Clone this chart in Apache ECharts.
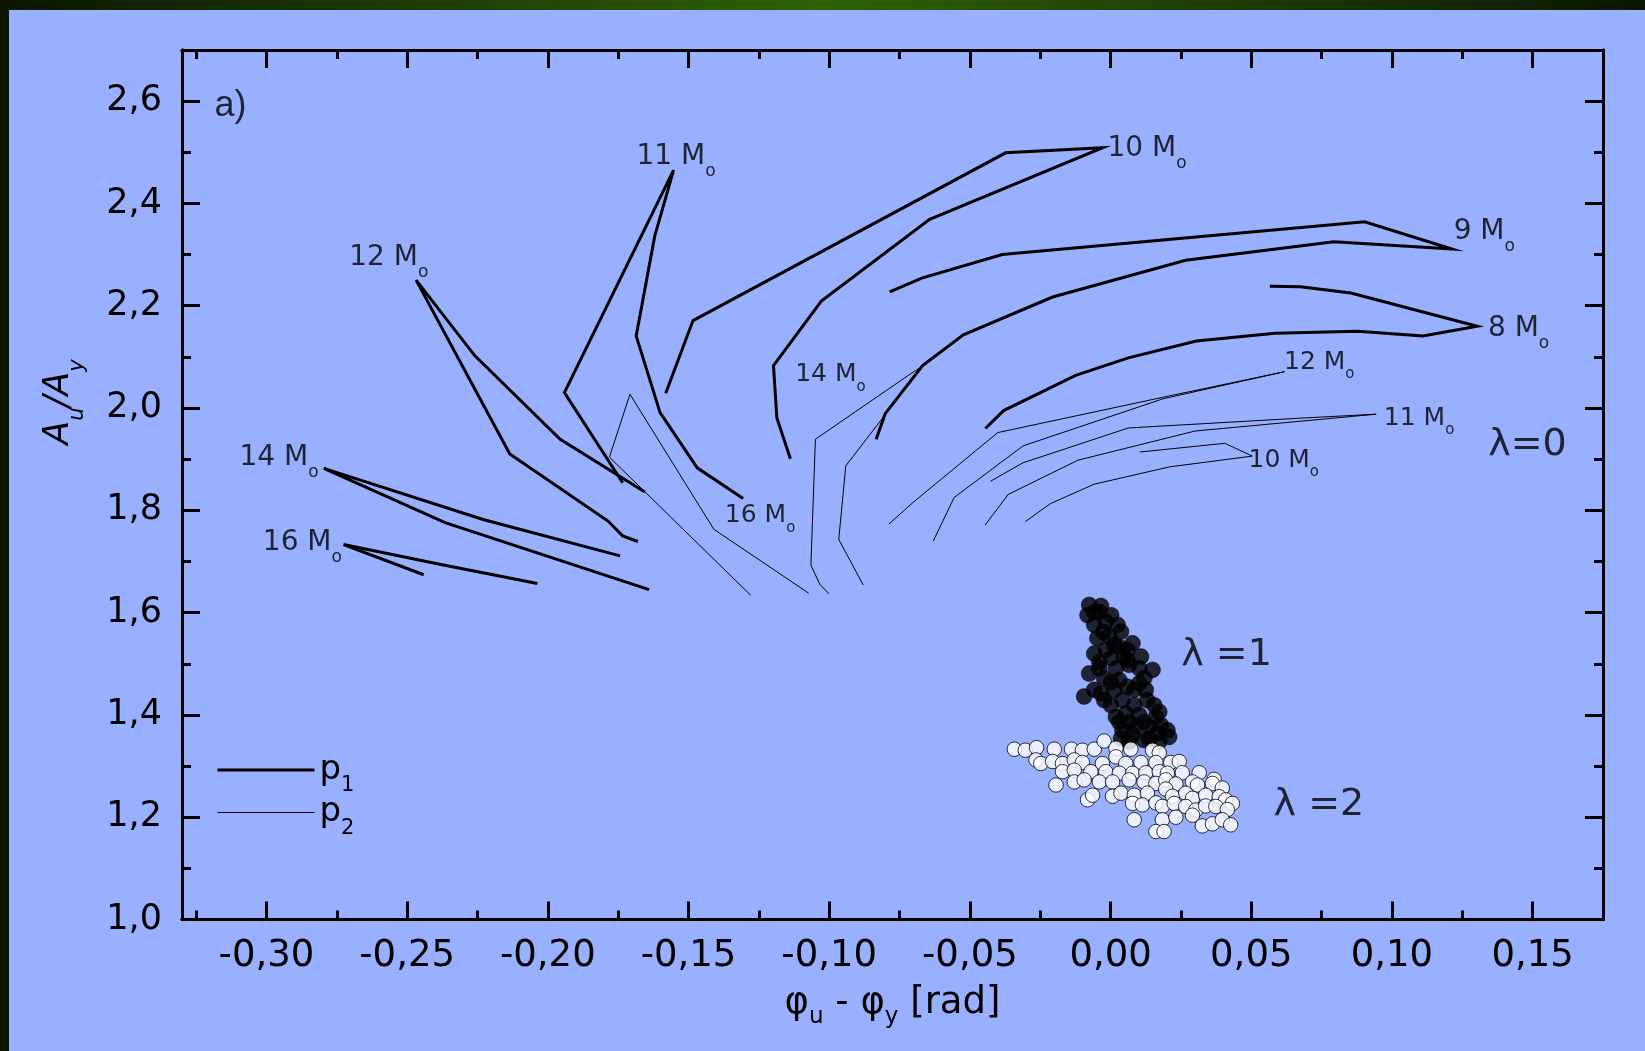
<!DOCTYPE html>
<html><head><meta charset="utf-8">
<script src="https://cdn.jsdelivr.net/npm/echarts@6/dist/echarts.min.js"></script>
<style>html,body{margin:0;padding:0;background:#99b0fe;}#c{width:1645px;height:1051px;}</style>
</head><body><div id="c"></div>
<script>
// ---------- axis ticks ----------
const X_MIN = -0.33, X_MAX = 0.175, Y_MIN = 1.0, Y_MAX = 2.7;
const xMajorTicks = [-0.30, -0.25, -0.20, -0.15, -0.10, -0.05, 0.00, 0.05, 0.10, 0.15];
const xMinorTicks = [-0.325, -0.275, -0.225, -0.175, -0.125, -0.075, -0.025, 0.025, 0.075, 0.125, 0.175];
const yMajorTicks = [1.0, 1.2, 1.4, 1.6, 1.8, 2.0, 2.2, 2.4, 2.6];
const yMinorTicks = [1.1, 1.3, 1.5, 1.7, 1.9, 2.1, 2.3, 2.5, 2.7];

// ---------- p1 (thick) tracks ----------
const track8P1 = [[0.0566,2.238],[0.0675,2.237],[0.0854,2.225],[0.1303,2.160],[0.1110,2.141],[0.0879,2.150],[0.0585,2.146],[0.0305,2.131],[0.0063,2.098],[-0.0124,2.064],[-0.0380,1.995],[-0.0445,1.960]];
const track9P1 = [[-0.0785,2.227],[-0.0671,2.254],[-0.0385,2.300],[0.0903,2.364],[0.1213,2.311],[0.0794,2.325],[0.0267,2.289],[-0.0206,2.217],[-0.0523,2.143],[-0.0668,2.083],[-0.0801,1.989],[-0.0833,1.939]];
const track10P1 = [[-0.1581,2.029],[-0.1484,2.171],[-0.0373,2.499],[-0.0028,2.509],[-0.0643,2.369],[-0.1028,2.209],[-0.1198,2.083],[-0.1186,1.981],[-0.1138,1.901]];
const track11P1 = [[-0.1734,1.854],[-0.1941,2.030],[-0.1553,2.465],[-0.1620,2.336],[-0.1686,2.141],[-0.1601,1.991],[-0.1469,1.883],[-0.1306,1.823]];
const track12P1 = [[-0.1680,1.739],[-0.1734,1.750],[-0.1786,1.779],[-0.2135,1.910],[-0.2468,2.250],[-0.2259,2.102],[-0.1956,1.939],[-0.1655,1.836]];
const track14P1 = [[-0.1743,1.711],[-0.2230,1.782],[-0.2796,1.882],[-0.2365,1.776],[-0.1640,1.645]];
const track16P1 = [[-0.2441,1.674],[-0.2726,1.733],[-0.2380,1.694],[-0.2037,1.657]];

// ---------- p2 (thin) tracks ----------
const track10P2 = [[0.0104,1.914],[0.0406,1.931],[0.0504,1.906],[0.0210,1.885],[-0.0059,1.851],[-0.0214,1.813],[-0.0303,1.778]];
const track11P2 = [[-0.0426,1.857],[-0.0311,1.893],[0.0063,1.961],[0.0667,1.980],[0.0944,1.988],[0.0300,1.955],[-0.0116,1.898],[-0.0364,1.831],[-0.0446,1.771]];
const track12P2 = [[-0.0788,1.773],[-0.0703,1.815],[-0.0401,1.952],[0.0186,2.021],[0.0618,2.071],[0.0186,2.018],[-0.0311,1.926],[-0.0556,1.825],[-0.0630,1.740]];
const track14P2 = [[-0.1001,1.637],[-0.1033,1.655],[-0.1065,1.693],[-0.1049,1.939],[-0.0713,2.066],[-0.0668,2.082],[-0.0941,1.887],[-0.0966,1.743],[-0.0879,1.654]];
const track16P2 = [[-0.1279,1.634],[-0.1781,1.904],[-0.1708,2.027],[-0.1410,1.763],[-0.1073,1.638]];

// ---------- scatter: lambda = 1 (filled) ----------
const lambda1Points = [
[-0.0076,1.615],[-0.0034,1.613],[-0.0082,1.595],[-0.0040,1.601],[-0.0058,1.601],[0.0002,1.595],[-0.0058,1.576],[-0.0017,1.582],[0.0025,1.576],
[-0.0026,1.562],[-0.0047,1.550],[-0.0005,1.553],[0.0037,1.563],[0.0078,1.540],[0.0013,1.537],[-0.0058,1.520],[-0.0017,1.527],[0.0031,1.533],[0.0060,1.527],[0.0108,1.514],
[-0.0040,1.503],[0.0002,1.511],[0.0048,1.513],[0.0060,1.507],[-0.0040,1.491],
[-0.0076,1.481],[-0.0023,1.472],[0.0019,1.491],[0.0066,1.498],[0.0102,1.491],[0.0149,1.488],[0.0002,1.464],[0.0031,1.468],[0.0120,1.472],
[-0.0094,1.436],[-0.0058,1.449],[-0.0034,1.442],[0.0013,1.449],[0.0060,1.455],[0.0102,1.462],[0.0125,1.449],[0.0084,1.449],
[-0.0023,1.429],[0.0001,1.419],[0.0042,1.429],[0.0084,1.419],[0.0130,1.429],[0.0155,1.419],
[0.0019,1.396],[0.0054,1.403],[0.0102,1.400],[0.0161,1.396],[0.0173,1.406],[0.0031,1.386],[0.0066,1.386],[0.0119,1.386],
[0.0042,1.370],[0.0090,1.377],[0.0137,1.377],[0.0179,1.380],[0.0202,1.370],
[0.0037,1.354],[0.0066,1.348],[0.0078,1.361],[0.0119,1.351],[0.0137,1.354],[0.0166,1.364],[0.0173,1.348],[0.0208,1.357]
];

// ---------- scatter: lambda = 2 (open) ----------
const lambda2Points = [
[-0.0342,1.333],[-0.0303,1.331],[-0.0263,1.336],[-0.0200,1.333],[-0.0139,1.333],[-0.0100,1.331],[-0.0058,1.333],[-0.0023,1.349],[0.0019,1.335],[0.0072,1.333],[0.0149,1.331],[0.0173,1.326],
[-0.0265,1.312],[-0.0248,1.305],[-0.0206,1.309],[-0.0171,1.305],[-0.0129,1.312],[-0.0100,1.307],[-0.0029,1.305],[0.0019,1.318],[0.0054,1.305],[0.0108,1.307],[0.0161,1.307],[0.0214,1.307],[0.0244,1.309],
[-0.0171,1.289],[-0.0129,1.292],[-0.0070,1.289],[-0.0017,1.289],[0.0031,1.286],[0.0078,1.286],[0.0125,1.287],[0.0173,1.289],[0.0202,1.286],[0.0255,1.287],[0.0315,1.287],[0.0368,1.274],
[-0.0194,1.263],[-0.0129,1.269],[-0.0094,1.273],[-0.0040,1.269],[0.0007,1.269],[0.0066,1.273],[0.0119,1.269],[0.0161,1.266],[0.0196,1.273],[0.0232,1.265],[0.0291,1.269],[0.0309,1.263],[0.0362,1.266],[0.0397,1.257],
[-0.0082,1.234],[-0.0064,1.243],[0.0007,1.241],[0.0037,1.247],[0.0084,1.243],[0.0131,1.247],[0.0196,1.255],[0.0220,1.241],[0.0267,1.247],[0.0291,1.237],[0.0338,1.243],[0.0386,1.240],[0.0409,1.234],[0.0433,1.227],
[0.0078,1.227],[0.0113,1.224],[0.0161,1.228],[0.0184,1.221],[0.0226,1.227],[0.0267,1.221],[0.0303,1.214],[0.0338,1.222],[0.0374,1.221],[0.0415,1.215],
[0.0084,1.195],[0.0184,1.195],[0.0232,1.200],[0.0291,1.204],[0.0326,1.183],[0.0362,1.187],[0.0397,1.195],[0.0427,1.185],[0.0161,1.172],[0.0190,1.172]
];

// ---------- annotations (text, x, y in data units) ----------
const massLabelsP1 = [['11',-0.1683,2.4913],['10',-0.0009,2.5064],['9',0.1221,2.3447],['8',0.1343,2.1549],['12',-0.2704,2.2927],['14',-0.3094,1.9017],['16',-0.3011,1.7355]];
const massLabelsP2 = [['14',-0.1119,2.0639],['16',-0.1369,1.7885],['12',0.0618,2.0890],['11',0.0973,1.9791],['10',0.0492,1.8968]];
const lambdaLabels = [['λ=0',0.1344,1.9257],['λ =1',0.0253,1.5152],['λ =2',0.0581,1.2219]];
const panelLabels = [['a)',-0.3183,2.5885]];

// ---------- build ----------
const FONT = 'DejaVu Sans';
const BLACK = '#000';
const fmtX = v => v.toFixed(2).replace('.', ',');
const fmtY = v => v.toFixed(1).replace('.', ',');

function xAxis(pos, ticks, len, withLabels) {
  return {
    type: 'value', position: pos, min: X_MIN, max: X_MAX,
    axisLine: { show: true, onZero: false, lineStyle: { color: BLACK, width: 3 } },
    axisTick: { show: true, inside: true, length: len, customValues: ticks, lineStyle: { color: BLACK, width: 3 } },
    axisLabel: withLabels ? { show: true, customValues: ticks, formatter: fmtX, margin: 18, fontSize: 37, fontFamily: FONT, color: BLACK } : { show: false },
    splitLine: { show: false }
  };
}
function yAxis(pos, ticks, len, withLabels) {
  return {
    type: 'value', position: pos, min: Y_MIN, max: Y_MAX,
    axisLine: { show: true, onZero: false, lineStyle: { color: BLACK, width: 3 } },
    axisTick: { show: true, inside: true, length: len, customValues: ticks, lineStyle: { color: BLACK, width: 3 } },
    axisLabel: withLabels ? { show: true, customValues: ticks, formatter: fmtY, margin: 20, fontSize: 35, fontFamily: FONT, color: BLACK } : { show: false },
    splitLine: { show: false }
  };
}

function lineSeries(name, data, width) {
  return { type: 'line', name: name, data: data, symbol: 'none', silent: true, z: 2,
    lineStyle: { color: BLACK, width: width, join: 'miter' }, itemStyle: { color: BLACK } };
}

const series = [];
[track8P1, track9P1, track10P1, track11P1, track12P1, track14P1, track16P1].forEach(d => series.push(lineSeries('p1', d, 3)));
[track10P2, track11P2, track12P2, track14P2, track16P2].forEach(d => series.push(lineSeries('p2', d, 1)));

series.push({ type: 'scatter', name: 'λ=1', data: lambda1Points, symbol: 'circle', symbolSize: 16, z: 3, silent: true,
  itemStyle: { color: BLACK, borderColor: BLACK, borderWidth: 0.5 } });
series.push({ type: 'scatter', name: 'λ=2', data: lambda2Points, symbol: 'circle', symbolSize: 14.5, z: 4, silent: true,
  itemStyle: { color: '#fff', borderColor: BLACK, borderWidth: 1 } });

function textSeries(items, label) {
  return { type: 'scatter', symbol: 'circle', symbolSize: 1, z: 6, silent: true,
    itemStyle: { color: 'rgba(0,0,0,0)' },
    data: items.map(a => ({ value: [a[1], a[2]], name: a[0] })),
    label: Object.assign({ show: true, position: [0, 0], align: 'left', verticalAlign: 'middle', color: BLACK }, label) };
}
series.push(textSeries(massLabelsP1, { formatter: p => '{n|' + p.name + ' M}{s|o}',
  rich: { n: { fontSize: 28, lineHeight: 28, fontFamily: FONT, color: BLACK }, s: { fontSize: 17, fontFamily: FONT, color: BLACK, padding: [30, 0, 0, 0] } } }));
series.push(textSeries(massLabelsP2, { formatter: p => '{n|' + p.name + ' M}{s|o}',
  rich: { n: { fontSize: 25, lineHeight: 25, fontFamily: FONT, color: BLACK }, s: { fontSize: 15, fontFamily: FONT, color: BLACK, padding: [24, 0, 0, 0] } } }));
series.push(textSeries(lambdaLabels, { formatter: p => p.name, fontSize: 38, fontFamily: FONT }));
series.push(textSeries(panelLabels, { formatter: p => p.name, fontSize: 36, fontFamily: 'Liberation Sans' }));

const option = {
  animation: false,
  backgroundColor: '#99b0fe',
  grid: { left: 182, right: 42, top: 50, bottom: 131.5, containLabel: false },
  xAxis: [xAxis('bottom', xMajorTicks, 18, true), xAxis('bottom', xMinorTicks, 9, false),
          xAxis('top', xMajorTicks, 18, false), xAxis('top', xMinorTicks, 9, false)],
  yAxis: [yAxis('left', yMajorTicks, 18, true), yAxis('left', yMinorTicks, 9, false),
          yAxis('right', yMajorTicks, 18, false), yAxis('right', yMinorTicks, 9, false)],
  legend: {
    data: [
      { name: 'p1', lineStyle: { width: 3, color: BLACK } },
      { name: 'p2', lineStyle: { width: 1, color: BLACK } }
    ],
    orient: 'vertical', left: 216, top: 753, padding: 0,
    itemWidth: 97, itemHeight: 14, itemGap: -1, selectedMode: false,
    itemStyle: { opacity: 0 },
    formatter: n => '{p|p}{s|' + n.slice(1) + '}',
    textStyle: { color: BLACK, rich: {
      p: { fontSize: 34, lineHeight: 34, fontFamily: FONT, color: BLACK },
      s: { fontSize: 21, fontFamily: FONT, color: BLACK, padding: [32, 0, 0, 0] } } }
  },
  graphic: [
    { type: 'rect', silent: true, z: 100, shape: { x: 0, y: 0, width: 1645, height: 10 },
      style: { fill: { type: 'linear', x: 0, y: 0, x2: 1, y2: 0, colorStops: [
        { offset: 0, color: '#0b1600' }, { offset: 0.5, color: '#2e6100' }, { offset: 1, color: '#0b1600' }] } } },
    { type: 'rect', silent: true, z: 100, shape: { x: 0, y: 0, width: 9, height: 1051 }, style: { fill: '#0d1700' } },
    { type: 'text', silent: true, x: 59, y: 402, rotation: Math.PI / 2,
      style: { text: '{a|A}{s|u}{a|/A}{s|y}', align: 'center', verticalAlign: 'middle', textAlign: 'center', textVerticalAlign: 'middle',
        rich: { a: { fontSize: 35, lineHeight: 35, fontStyle: 'italic', fontFamily: FONT, fill: BLACK, color: BLACK },
                s: { fontSize: 21, fontStyle: 'italic', fontFamily: FONT, fill: BLACK, color: BLACK, padding: [38, 0, 0, 0] } } } },
    { type: 'text', silent: true, x: 892.5, y: 1003,
      style: { text: '{a|φ}{s|u}{a| - φ}{s|y}{a| [rad]}', align: 'center', verticalAlign: 'middle', textAlign: 'center', textVerticalAlign: 'middle',
        rich: { a: { fontSize: 37, lineHeight: 37, fontFamily: FONT, fill: BLACK, color: BLACK },
                s: { fontSize: 23, fontFamily: FONT, fill: BLACK, color: BLACK, padding: [28, 0, 0, 0] } } } }
  ],
  series: series
};

const chart = echarts.init(document.getElementById('c'), null, { renderer: 'canvas' });
chart.setOption(option);
</script></body></html>
